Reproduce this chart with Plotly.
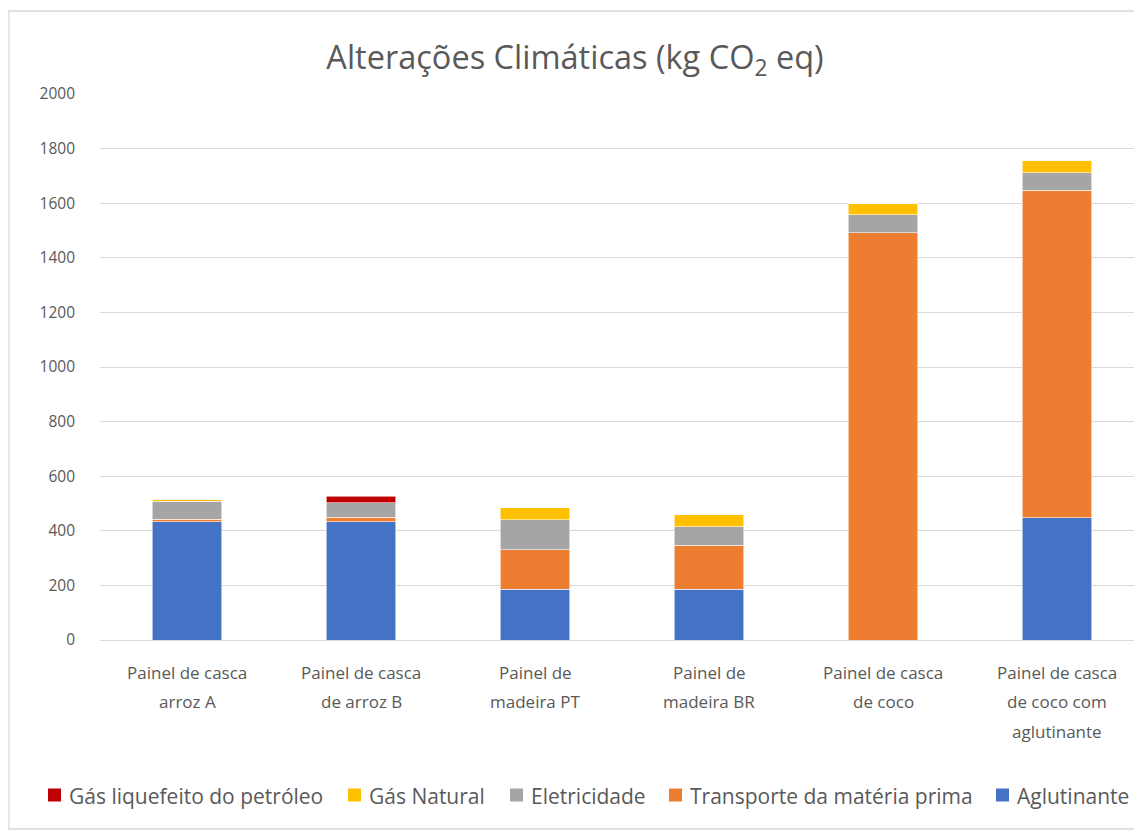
import plotly.graph_objects as go

categories = [
    "Painel de casca arroz A",
    "Painel de casca de arroz B",
    "Painel de madeira PT",
    "Painel de madeira BR",
    "Painel de casca de coco",
    "Painel de casca de coco com aglutinante",
]
category_lines = [
    ["Painel de casca", "arroz A"],
    ["Painel de casca", "de arroz B"],
    ["Painel de", "madeira PT"],
    ["Painel de", "madeira BR"],
    ["Painel de casca", "de coco"],
    ["Painel de casca", "de coco com", "aglutinante"],
]
aglutinante = [433, 433, 186, 186, 0, 448]
transporte = [10, 17, 145, 161, 1492, 1199]
eletricidade = [65, 52, 109, 68, 65, 64]
gas_natural = [5, 0, 44, 43, 43, 47]
glp = [0, 25, 0, 0, 0, 0]

series_names = ["Aglutinante", "Transporte da matéria prima", "Eletricidade",
                "Gás Natural", "Gás liquefeito do petróleo"]
series_values = [aglutinante, transporte, eletricidade, gas_natural, glp]
series_colors = ["#4472C4", "#ED7D31", "#A5A5A5", "#FFC000", "#C00000"]

FONT = "'Open Sans', Lato, sans-serif"
TXT = "#595959"
W, H = 1134, 832
L, R, T, B = 100, 0, 94, 192
pw = W - L - R
ph = H - T - B
PLOT_BOTTOM = H - B


def px_x(px):
    return (px - L) / pw


def px_y(py):
    return (PLOT_BOTTOM - py) / ph


fig = go.Figure()
for name, vals, col in zip(series_names, series_values, series_colors):
    fig.add_trace(go.Bar(
        x=categories, y=vals, name=name, showlegend=False,
        marker=dict(color=col, line=dict(color="rgba(255,255,255,0.7)", width=0.8)),
    ))

# category labels as multi-line annotations (wider line spacing than tick labels)
for cat, lines in zip(categories, category_lines):
    for i, ln in enumerate(lines):
        fig.add_annotation(
            x=cat, xref="x", yref="paper",
            y=-(32 + 29.5 * i) / ph, yanchor="middle",
            text=ln, showarrow=False,
            font=dict(size=17, color=TXT, family=FONT),
        )

# legend drawn manually (reverse series order, single row)
LEG_FONT = 21
LEG_Y = 795
est_widths = [254, 116, 113, 281, 112]  # approximate rendered text widths (px)
x_cursor = 48
for idx, w_est in zip(range(len(series_names) - 1, -1, -1), est_widths):
    fig.add_shape(
        type="rect", xref="paper", yref="paper",
        x0=px_x(x_cursor), x1=px_x(x_cursor + 13),
        y0=px_y(LEG_Y + 6.5), y1=px_y(LEG_Y - 6.5),
        line=dict(width=0), fillcolor=series_colors[idx],
    )
    fig.add_annotation(
        x=px_x(x_cursor + 19), xref="paper", xanchor="left",
        y=px_y(LEG_Y + 1), yref="paper", yanchor="middle",
        text=series_names[idx], showarrow=False,
        font=dict(size=LEG_FONT, color=TXT, family=FONT),
    )
    x_cursor += 19 + w_est + 27

# outer chart border
fig.add_shape(
    type="rect", xref="paper", yref="paper",
    x0=px_x(9), x1=px_x(W + 20),
    y0=px_y(829), y1=px_y(11),
    line=dict(color="#D9D9D9", width=1.3), fillcolor="rgba(0,0,0,0)", layer="below",
)

fig.update_layout(
    width=W, height=H,
    barmode="stack", bargap=0.6,
    showlegend=False,
    plot_bgcolor="white", paper_bgcolor="white",
    margin=dict(l=L, r=R, t=T, b=B, autoexpand=False),
    font=dict(family=FONT, color=TXT, size=17),
    title=dict(
        text="Alterações Climáticas (kg CO<sub>2</sub> eq)",
        x=575 / W, xanchor="center", y=1 - 58 / H, yanchor="middle",
        font=dict(size=32.5, color=TXT, family=FONT),
    ),
    xaxis=dict(
        range=[-0.5, -0.5 + pw / 174.0],
        showgrid=False, zeroline=False, showline=False,
        ticks="", showticklabels=False, automargin=False,
    ),
    yaxis=dict(
        range=[0, 2000], dtick=200, tick0=0, automargin=False,
        showgrid=True, gridcolor="#D9D9D9", gridwidth=1.3,
        zeroline=True, zerolinecolor="#D9D9D9", zerolinewidth=1.3,
        showline=False, ticks="", ticklabelstandoff=24,
        tickfont=dict(size=15.5, color=TXT),
    ),
)

fig.write_html(
    "out.html",
    config={"displayModeBar": False},
    post_script="document.body.style.margin='0';document.documentElement.style.overflow='hidden';",
)
